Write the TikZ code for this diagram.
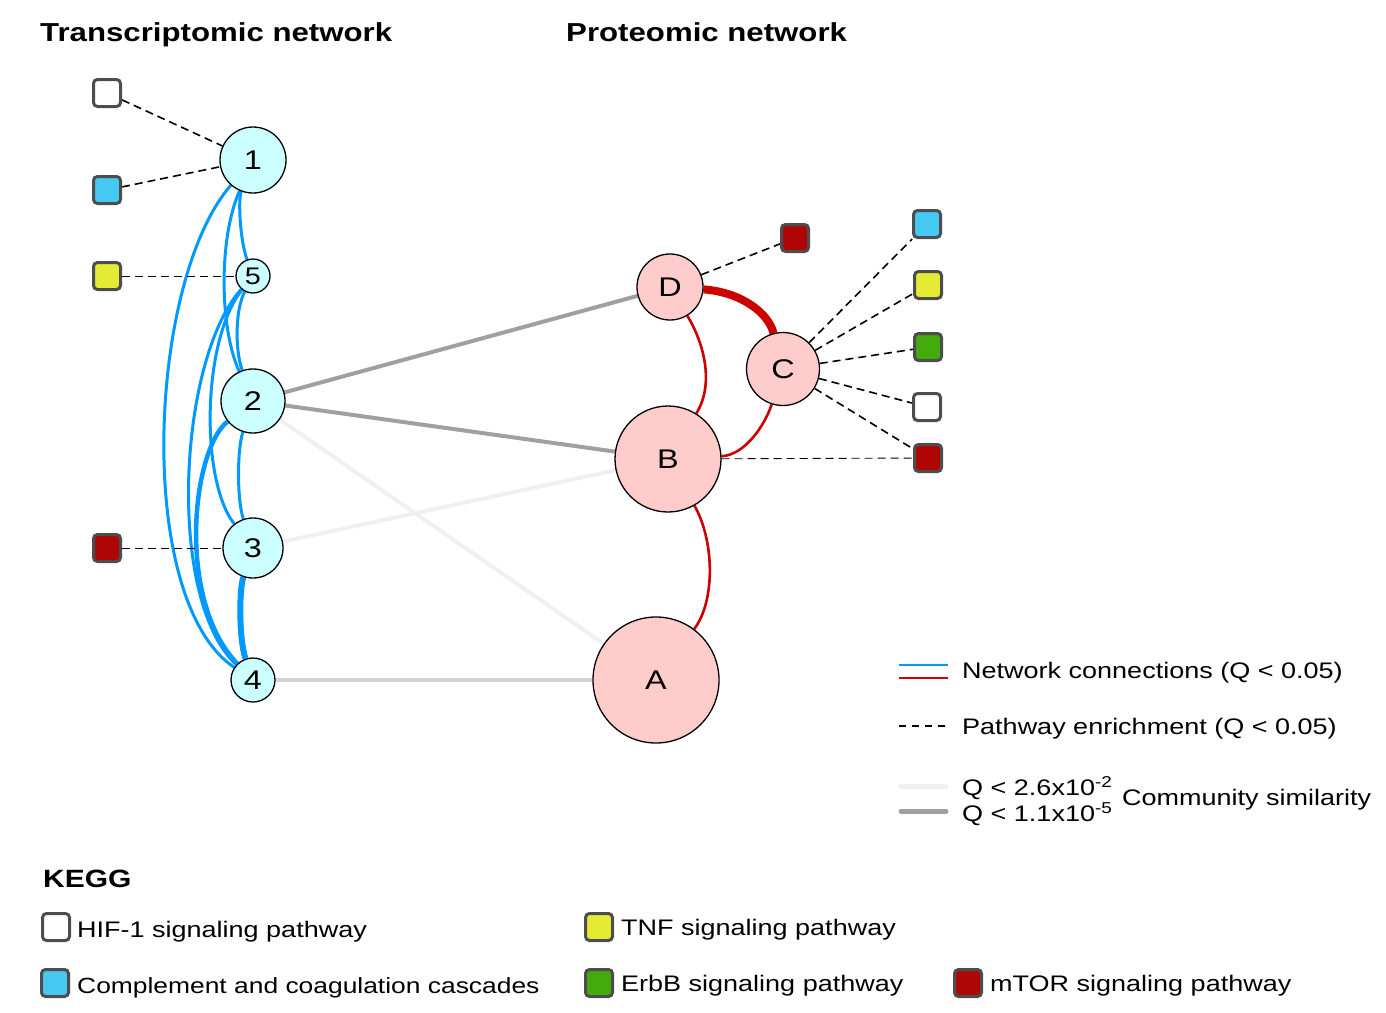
\documentclass[tikz,border=0pt]{standalone}
\usepackage{fontspec}
\setmainfont[FakeStretch=1.2]{Liberation Sans}
\pgfdeclarelayer{background}
\pgfsetlayers{background,main}
\definecolor{tcyan}{HTML}{CCFFFF}
\definecolor{ppink}{HTML}{FFCCCC}
\definecolor{bl}{HTML}{0099FF}
\definecolor{rd}{HTML}{CC0000}
\definecolor{gdark}{HTML}{A0A0A0}
\definecolor{gmid}{HTML}{D3D3D3}
\definecolor{glight}{HTML}{F0F0F0}
\definecolor{sqb}{HTML}{4D4D4D}
\definecolor{kblue}{HTML}{45C8F2}
\definecolor{kyellow}{HTML}{E5EB35}
\definecolor{kgreen}{HTML}{44AB0C}
\definecolor{kred}{HTML}{B00505}
\newcommand\fsz[1]{\fontsize{#1}{#1}\selectfont}
\tikzset{
  tnode/.style={circle, draw=black, line width=1.3pt, fill=tcyan, inner sep=0pt, font=\fsz{27}},
  pnode/.style={circle, draw=black, line width=1.3pt, fill=ppink, inner sep=0pt, font=\fsz{27}},
  sq/.style={draw=sqb, line width=3pt, rounded corners=4pt, minimum size=27pt, inner sep=0pt},
  bedge/.style={draw=bl, line width=3pt},
  redge/.style={draw=rd, line width=2.6pt},
  gedge/.style={line width=4pt},
  pdash/.style={draw=black, line width=1.6pt, dash pattern=on 8pt off 5pt},
  pdashthin/.style={draw=black, line width=0.9pt, dash pattern=on 8pt off 5pt},
  txt/.style={anchor=west, inner sep=0pt, font=\fsz{22.5}},
  ttl/.style={anchor=base west, inner sep=0pt, font=\fsz{26}\bfseries},
}
\begin{document}
\begin{tikzpicture}[x=1pt,y=-1pt]
\useasboundingbox (0,0) rectangle (1386,1012);

% titles
\node[ttl] (t1) at (40,41) {Transcriptomic network};
\node[ttl] (t2) at (566,41) {Proteomic network};

% transcriptomic nodes
\node[tnode, minimum size=66pt] (n1) at (253,160) {1};
\node[tnode, minimum size=34pt, font=\fsz{24}] (n5) at (253,276) {5};
\node[tnode, minimum size=64pt] (n2) at (253,401) {2};
\node[tnode, minimum size=60pt] (n3) at (253,548) {3};
\node[tnode, minimum size=44pt] (n4) at (253,680) {4};

% proteomic nodes
\node[pnode, minimum size=66pt] (D) at (670,287) {D};
\node[pnode, minimum size=73pt] (C) at (783,369) {C};
\node[pnode, minimum size=106pt] (B) at (668,459) {B};
\node[pnode, minimum size=126pt] (A) at (656,680) {A};

% pathway squares (network)
\node[sq, fill=white] (s1) at (107,93) {};
\node[sq, fill=kblue] (s2) at (107,190) {};
\node[sq, fill=kyellow] (s3) at (107,276) {};
\node[sq, fill=kred] (s4) at (107,548) {};
\node[sq, fill=kred] (s5) at (795,238) {};
\node[sq, fill=kblue] (s6) at (927,224) {};
\node[sq, fill=kyellow] (s7) at (928,285) {};
\node[sq, fill=kgreen] (s8) at (928,347) {};
\node[sq, fill=white] (s9) at (927,407) {};
\node[sq, fill=kred] (s10) at (928,458) {};

\begin{pgfonlayer}{background}
% community similarity
\draw[gedge, draw=gdark] (n2) -- (D);
\draw[gedge, draw=gdark] (n2) -- (B);
\draw[gedge, draw=glight] (n2) -- (A);
\draw[gedge, draw=glight] (n3) -- (B);
\draw[gedge, draw=gmid] (n4) -- (A);

% blue network connections
\draw[bedge] (n1) .. controls (238,200) and (240,240) .. (n5);
\draw[bedge] (n1) .. controls (218,240) and (220,330) .. (n2);
\draw[bedge] (n1) .. controls (148,280) and (134,600) .. (n4);
\draw[bedge] (n5) .. controls (235,310) and (235,350) .. (n2);
\draw[bedge] (n5) .. controls (202,340) and (200,480) .. (n3);
\draw[bedge] (n5) .. controls (178,360) and (166,600) .. (n4);
\draw[bedge] (n2) .. controls (237,450) and (237,500) .. (n3);
\draw[bedge, line width=4.5pt] (n2) .. controls (192,450) and (176,600) .. (n4);
\draw[bedge, line width=6pt] (n3) .. controls (239,590) and (239,640) .. (n4);

% red network connections
\draw[redge, line width=8pt] (D) .. controls (740,292) and (768,312) .. (C);
\draw[redge] (D) .. controls (705,345) and (714,385) .. (B);
\draw[redge] (C) .. controls (765,425) and (745,455) .. (B);
\draw[redge] (B) .. controls (714,540) and (716,600) .. (A);

% pathway enrichment
\draw[pdash] (s1) -- (n1);
\draw[pdash] (s2) -- (n1);
\draw[pdashthin] (s3) -- (n5);
\draw[pdashthin] (s4) -- (n3);
\draw[pdash] (D) -- (s5);
\draw[pdash] (C) -- (s6);
\draw[pdash] (C) -- (s7);
\draw[pdash] (C) -- (s8);
\draw[pdash] (C) -- (s9);
\draw[pdash] (C) -- (s10);
\draw[pdashthin] (B) -- (s10);
\end{pgfonlayer}

% legend (lines)
\coordinate (l1a) at (899,665); \coordinate (l1b) at (948,665);
\coordinate (l2a) at (899,678); \coordinate (l2b) at (948,678);
\coordinate (l3a) at (899,726); \coordinate (l3b) at (948,726);
\coordinate (l4a) at (901,786); \coordinate (l4b) at (946,786);
\coordinate (l5a) at (901,811); \coordinate (l5b) at (946,811);
\draw[draw=bl, line width=2pt] (l1a) -- (l1b);
\draw[draw=rd, line width=2pt] (l2a) -- (l2b);
\draw[draw=black, line width=1.3pt, dash pattern=on 7pt off 6pt] (l3a) -- (l3b);
\draw[draw=glight, line width=5pt, line cap=round] (l4a) -- (l4b);
\draw[draw=gdark, line width=5pt, line cap=round] (l5a) -- (l5b);
\node[txt] (lt1) at (962,673) {Network connections (Q < 0.05)};
\node[txt] (lt2) at (962,729) {Pathway enrichment (Q < 0.05)};
\node[txt] (lt3) at (962,788) {Q < 2.6x10\textsuperscript{-2}};
\node[txt] (lt4) at (962,814) {Q < 1.1x10\textsuperscript{-5}};
\node[txt] (lt5) at (1122,800) {Community similarity};

% KEGG legend
\node[anchor=west, inner sep=0pt, font=\fsz{25}\bfseries] (kegg) at (43,879) {KEGG};
\node[sq, fill=white] (k1) at (56,927) {};
\node[sq, fill=kblue] (k2) at (55,983) {};
\node[sq, fill=kyellow] (k3) at (599,927) {};
\node[sq, fill=kgreen] (k4) at (599,983) {};
\node[sq, fill=kred] (k5) at (968,983) {};
\node[txt] (kt1) at (77,932) {HIF-1 signaling pathway};
\node[txt, font=\fsz{22}] (kt2) at (77,988) {Complement and coagulation cascades};
\node[txt] (kt3) at (621,930) {TNF signaling pathway};
\node[txt] (kt4) at (621,986) {ErbB signaling pathway};
\node[txt] (kt5) at (990,986) {mTOR signaling pathway};
\end{tikzpicture}
\end{document}
